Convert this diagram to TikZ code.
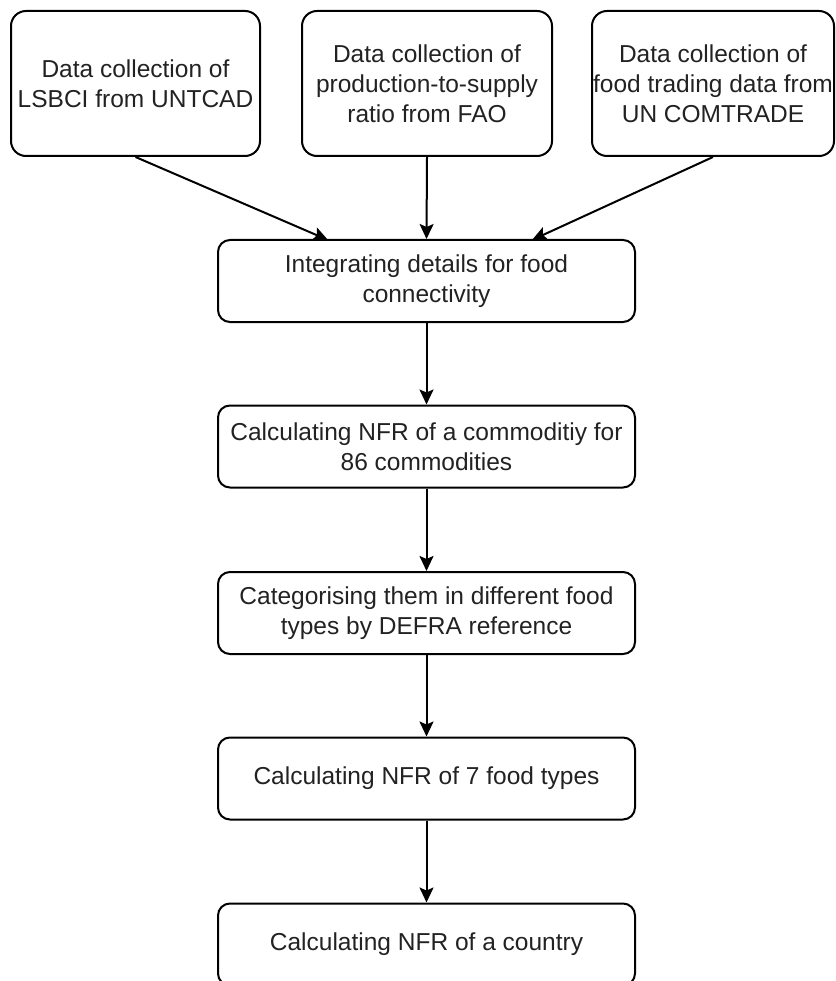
\documentclass[tikz,border=0pt]{standalone}
\usepackage{fontspec}
\setmainfont{Liberation Sans}
\usetikzlibrary{arrows.meta}
\definecolor{txt}{HTML}{222222}
\tikzset{
  topbox/.style={draw=black, line width=2pt, rounded corners=15pt, align=center,
    text=txt, font=\fontsize{24.5}{30}\selectfont, inner sep=0pt},
  flowbox/.style={draw=black, line width=2pt, rounded corners=12pt, align=center,
    text=txt, font=\fontsize{24.5}{30}\selectfont, inner sep=0pt,
    minimum width=417pt, minimum height=82pt},
  conn/.style={draw=black, line width=2pt, -{Stealth[length=15pt,width=14pt,inset=3pt]}}
}
\begin{document}
\begin{tikzpicture}[x=1pt,y=1pt]
\useasboundingbox (0,0) rectangle (835,-981);
\clip (0,0) rectangle (835,-981);
\node[topbox, minimum width=249pt, minimum height=145pt] (a) at (135.5,-83.5) {Data collection of\\LSBCI from UNTCAD};
\node[topbox, minimum width=250pt, minimum height=145pt] (b) at (427,-83.5) {Data collection of\\production-to-supply\\ratio from FAO};
\node[topbox, minimum width=242pt, minimum height=145pt] (c) at (713,-83.5) {Data collection of\\food trading data from\\UN COMTRADE};
\node[flowbox] (d) at (426.5,-281) {Integrating details for food\\connectivity};
\node[flowbox] (e) at (426.5,-446.5) {Calculating NFR of a commoditiy for\\86 commodities};
\node[flowbox] (f) at (426.5,-613) {Categorising them in different food\\types by DEFRA reference};
\node[flowbox] (g) at (426.5,-778.5) {Calculating NFR of 7 food types};
\node[flowbox] (h) at (426.5,-944.5) {Calculating NFR of a country};
\coordinate (d1) at (328,-240);
\coordinate (d3) at (532,-240);
\draw[conn] (a.south) -- (d1);
\draw[conn] (b.south) -- (d.north);
\draw[conn] (c.south) -- (d3);
\draw[conn] (d) -- (e);
\draw[conn] (e) -- (f);
\draw[conn] (f) -- (g);
\draw[conn] (g) -- (h);
\end{tikzpicture}
\end{document}
